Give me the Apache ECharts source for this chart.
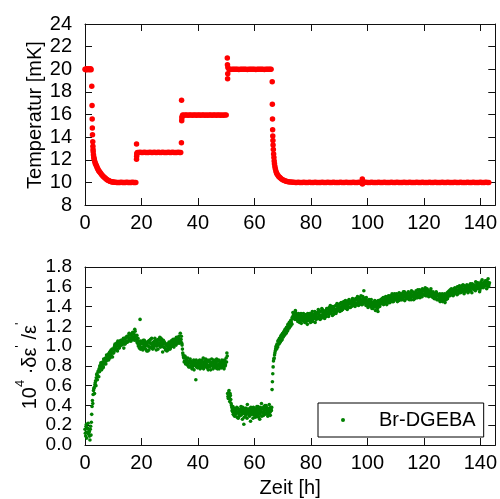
<!DOCTYPE html>
<html>
<head>
<meta charset="utf-8">
<script src="https://cdn.jsdelivr.net/npm/echarts@6/dist/echarts.min.js"></script>
<style>
html,body{margin:0;padding:0;background:#fff;}
#chart{width:500px;height:499px;}
</style>
</head>
<body>
<div id="chart"></div>
<script>
// ---- Data ----
const xTicks = [0, 20, 40, 60, 80, 100, 120, 140];
const tempTicks = [8, 10, 12, 14, 16, 18, 20, 22, 24];
const ratioTicks = [0.0, 0.2, 0.4, 0.6, 0.8, 1.0, 1.2, 1.4, 1.6, 1.8];
const seriesName = 'Br-DGEBA';

// Temperature [mK] vs time [h]
const temperature = [
[0,20.0],[0.25,19.95],[0.5,20.05],[0.75,19.95],[1.0,20.0],[1.25,20.05],[1.5,19.95],[1.75,20.0],[2.0,20.05],[2.15,19.95],
[2.4,18.5],[2.5,16.8],[2.55,15.6],[2.6,14.8],[2.65,14.2],
[2.75,13.6],[2.8,13.2],[2.85,12.9],[2.9,12.7],[3.0,12.45],[3.1,12.25],[3.2,12.1],[3.3,12.0],[3.45,11.85],[3.6,11.72],[3.8,11.6],[4.0,11.5],[4.2,11.38],[4.4,11.25],[4.6,11.15],[4.8,11.05],[5.0,10.98],[5.2,10.92],[5.5,10.82],[5.8,10.72],[6.1,10.63],[6.4,10.55],[6.7,10.48],[7.0,10.4],[7.3,10.34],[7.6,10.28],[7.9,10.22],[8.2,10.18],[8.5,10.14],[8.8,10.11],[9.1,10.08],[9.4,10.06],[9.7,10.04],[10.0,10.03],[10.4,10.02],[10.8,10.01],
[11.2,10.0],[11.6,10.0],[12.0,9.99],[12.4,10.0],[12.8,10.01],[13.2,10.0],[13.6,9.99],[14.0,10.0],[14.4,10.0],[14.8,10.01],[15.2,10.0],[15.6,9.99],[16.0,10.0],[16.4,10.0],[16.8,10.01],[17.2,10.0],[17.6,9.99],[18.0,10.0],
[18.25,13.4],[18.25,12.05],[18.3,12.3],[18.35,12.5],[18.45,12.6],
[18.6,12.65],[19.0,12.63],[19.5,12.66],[20.0,12.64],[20.5,12.65],[21.0,12.66],[21.5,12.64],[22.0,12.65],[22.5,12.63],[23.0,12.66],[23.5,12.65],[24.0,12.64],[24.5,12.66],[25.0,12.65],[25.5,12.63],[26.0,12.66],[26.5,12.64],[27.0,12.65],[27.5,12.66],[28.0,12.64],[28.5,12.65],[29.0,12.63],[29.5,12.66],[30.0,12.65],[30.5,12.64],[31.0,12.66],[31.5,12.65],[32.0,12.63],[32.5,12.65],[33.0,12.66],[33.5,12.64],[33.9,12.65],
[34.15,13.5],[34.2,17.25],[34.25,15.45],[34.3,15.7],[34.4,15.85],
[34.6,15.95],[35.0,15.94],[35.5,15.96],[36.0,15.95],[36.5,15.93],[37.0,15.96],[37.5,15.95],[38.0,15.94],[38.5,15.96],[39.0,15.95],[39.5,15.93],[40.0,15.95],[40.5,15.96],[41.0,15.94],[41.5,15.95],[42.0,15.96],[42.5,15.93],[43.0,15.95],[43.5,15.94],[44.0,15.96],[44.5,15.95],[45.0,15.93],[45.5,15.95],[46.0,15.96],[46.5,15.94],[47.0,15.95],[47.5,15.96],[48.0,15.93],[48.5,15.95],[49.0,15.94],[49.5,15.96],[50.0,15.95],
[50.4,21.0],[50.45,20.4],[50.5,19.15],[50.55,19.6],[50.6,20.15],
[51,20.0],[51.5,19.98],[52,20.01],[52.5,20.0],[53,19.99],[53.5,20.01],[54,20.0],[54.5,19.98],[55,20.0],[55.5,20.01],[56,19.99],[56.5,20.0],[57,20.01],[57.5,19.98],[58,20.0],[58.5,20.0],[59,20.01],[59.5,19.99],[60,20.0],[60.5,19.98],[61,20.01],[61.5,20.0],[62,19.99],[62.5,20.0],[63,20.01],[63.5,19.98],[64,20.0],[64.5,20.01],[65,19.99],[65.5,20.0],[65.9,20.0],
[66.3,18.9],[66.35,16.9],[66.4,15.6],[66.45,14.65],[66.5,14.1],[66.55,13.7],[66.6,13.3],[66.7,12.9],[66.8,12.5],[66.9,12.2],[67.0,11.9],[67.1,11.65],[67.25,11.4],[67.4,11.2],[67.6,11.0],[67.8,10.85],[68.0,10.75],[68.3,10.62],[68.6,10.52],[68.9,10.45],[69.2,10.38],[69.6,10.3],[70.0,10.24],[70.4,10.19],[70.8,10.15],[71.2,10.11],[71.6,10.08],[72.0,10.06],[72.5,10.04],[73.0,10.03],[73.5,10.02],[74.0,10.01],[74.5,10.0],
[75,10.0],[75.5,10.01],[76,9.99],[76.5,10.0],[77,10.0],[77.5,10.01],[78,9.99],[78.5,10.0],[79,10.0],[79.5,10.01],[80,10.0],[80.5,9.99],[81,10.0],[81.5,10.01],[82,10.0],[82.5,9.99],[83,10.0],[83.5,10.0],[84,10.01],[84.5,9.99],
[85,10.0],[85.5,10.0],[86,10.01],[86.5,9.99],[87,10.0],[87.5,10.0],[88,10.01],[88.5,10.0],[89,9.99],[89.5,10.0],[90,10.0],[90.5,10.01],[91,9.99],[91.5,10.0],[92,10.0],[92.5,10.01],[93,10.0],[93.5,9.99],[94,10.0],[94.5,10.0],
[95,10.01],[95.5,9.99],[96,10.0],[96.5,10.0],[97,10.01],[97.5,10.0],[98,9.99],[98.2,10.3],[98.25,9.85],[98.3,10.18],[98.5,10.0],[99,10.0],[99.5,10.01],[100,9.99],[100.5,10.0],[101,10.0],[101.5,10.01],[102,10.0],[102.5,9.99],[103,10.0],[103.5,10.0],[104,10.01],[104.5,9.99],
[105,10.0],[105.5,10.0],[106,10.01],[106.5,10.0],[107,9.99],[107.5,10.0],[108,10.0],[108.5,10.01],[109,9.99],[109.5,10.0],[110,10.0],[110.5,10.01],[111,10.0],[111.5,9.99],[112,10.0],[112.5,10.0],[113,10.01],[113.5,9.99],[114,10.0],[114.5,10.0],
[115,10.01],[115.5,10.0],[116,9.99],[116.5,10.0],[117,10.0],[117.5,10.01],[118,9.99],[118.5,10.0],[119,10.0],[119.5,10.01],[120,10.0],[120.5,9.99],[121,10.0],[121.5,10.0],[122,10.01],[122.5,9.99],[123,10.0],[123.5,10.0],[124,10.01],[124.5,10.0],
[125,9.99],[125.5,10.0],[126,10.0],[126.5,10.01],[127,9.99],[127.5,10.0],[128,10.0],[128.5,10.01],[129,10.0],[129.5,9.99],[130,10.0],[130.5,10.0],[131,10.01],[131.5,9.99],[132,10.0],[132.5,10.0],[133,10.01],[133.5,10.0],[134,9.99],[134.5,10.0],
[135,10.0],[135.5,10.01],[136,9.99],[136.5,10.0],[137,10.0],[137.5,10.01],[138,10.0],[138.5,9.99],[139,10.0],[139.5,10.0],[140,10.01],[140.5,9.99],[141,10.0],[141.5,10.0],[142,10.01],[142.5,10.0],[143,10.0]
];

// 10^4 * delta eps'/eps'
// set A: each row = [hour, value at +0h, +0.25h, +0.5h, +0.75h]
const ratioRowsA = [
[0,.16,.09,.21,.13],[1,.17,.11,.14,.05],[2,.19,.23,.39,.42],[3,.55,.58,.61,.65],[4,.68,.72,.70,.75],
[5,.77,.80,.78,.82],[6,.80,.84,.79,.86],[7,.83,.88,.85,.90],[8,.87,.92,.89,.94],[9,.91,.96,.93,.89],
[10,.97,.94,1.00,.96],[11,.99,1.03,.95,1.01],[12,1.04,.99,1.02,1.06],[13,1.01,1.05,1.03,.98],[14,1.07,1.03,1.09,1.05],
[15,1.04,1.10,1.06,1.12],[16,1.08,1.05,1.11,1.07],[17,1.13,1.09,1.06,1.15],[18,1.10,1.07,1.04,1.08],[19,1.02,.98,1.27,1.05],
[20,.99,1.04,.96,1.02],[21,1.06,1.00,.97,1.03],[22,1.01,.95,1.05,.99],[23,1.03,1.07,.98,1.02],[24,.97,1.04,1.00,1.08],
[25,1.02,.96,1.05,1.01],[26,1.07,1.03,1.09,.99],[27,1.04,1.00,.94,1.06],[28,.99,1.03,.96,1.01],[29,.95,1.00,.97,1.04],
[30,1.02,.98,1.05,1.00],[31,1.03,1.07,.99,1.04],[32,1.06,1.01,1.08,1.03],[33,1.05,1.10,1.04,1.13],[34,1.07,1.03,.97,.91],
[35,.88,.85,.89,.83],[36,.86,.81,.84,.79],[37,.83,.87,.80,.84],[38,.78,.82,.86,.81],[39,.84,.66,.79,.83],
[40,.80,.85,.82,.77],[41,.83,.79,.86,.81],[42,.77,.84,.80,.87],[43,.82,.78,.85,.80],[44,.86,.81,.76,.83],
[45,.80,.84,.79,.85],[46,.82,.78,.83,.80],[47,.85,.81,.77,.84],[48,.79,.83,.86,.80],[49,.82,.77,.84,.81],
[50,.88,.93,.52,.47],[51,.55,.44,.50,.42],[52,.38,.34,.31,.37],[53,.29,.35,.32,.38],[54,.33,.27,.36,.30],
[55,.34,.39,.31,.26],[56,.35,.21,.33,.37],[57,.30,.34,.41,.32],[58,.36,.29,.33,.38],[59,.31,.35,.27,.34],
[60,.37,.32,.30,.36],[61,.33,.39,.28,.35],[62,.31,.36,.42,.33],[63,.37,.30,.35,.40],[64,.32,.38,.34,.29],
[65,.36,.41,.33,.38],[66,.35,.56,.72,.85],[67,.88,.93,.97,1.00],[68,1.02,.99,1.06,1.03],[69,1.08,1.05,1.11,1.07],
[70,1.13,1.10,1.15,1.12],[71,1.17,1.13,1.19,1.16],[72,1.21,1.18,1.23,1.20],[73,1.25,1.22,1.28,1.31],[74,1.33,1.29,1.36,1.30],
[75,1.27,1.32,1.26,1.30],[76,1.24,1.29,1.33,1.27],[77,1.30,1.26,1.31,1.25],[78,1.28,1.32,1.26,1.22],[79,1.30,1.27,1.33,1.29],
[80,1.26,1.31,1.35,1.28],[81,1.32,1.29,1.24,1.33],[82,1.30,1.34,1.28,1.36],[83,1.32,1.27,1.35,1.31],[84,1.37,1.33,1.29,1.35],
[85,1.31,1.36,1.33,1.38],[86,1.34,1.30,1.39,1.35],[87,1.37,1.33,1.40,1.36],[88,1.32,1.38,1.35,1.41],[89,1.37,1.43,1.36,1.39],
[90,1.41,1.35,1.38,1.44],[91,1.40,1.37,1.43,1.39],[92,1.42,1.46,1.38,1.41],[93,1.44,1.40,1.47,1.43],[94,1.39,1.45,1.42,1.48],
[95,1.44,1.41,1.46,1.43],[96,1.47,1.42,1.50,1.45],[97,1.43,1.48,1.45,1.51],[98,1.46,1.42,1.49,1.56],[99,1.44,1.47,1.41,1.46],
[100,1.43,1.39,1.45,1.42],[101,1.46,1.40,1.44,1.41],[102,1.38,1.43,1.40,1.45],[103,1.42,1.39,1.44,1.35],[104,1.41,1.45,1.42,1.47],
[105,1.44,1.48,1.45,1.42],[106,1.47,1.43,1.50,1.46],[107,1.49,1.45,1.51,1.47],[108,1.44,1.50,1.47,1.53],[109,1.48,1.45,1.51,1.49],
[110,1.52,1.47,1.50,1.46],[111,1.49,1.54,1.48,1.51],[112,1.47,1.52,1.50,1.55],[113,1.50,1.46,1.53,1.49],[114,1.52,1.48,1.55,1.51],
[115,1.49,1.53,1.47,1.52],[116,1.55,1.50,1.53,1.48],[117,1.51,1.56,1.52,1.49],[118,1.54,1.50,1.57,1.53],[119,1.51,1.55,1.58,1.52],
[120,1.56,1.53,1.59,1.54],[121,1.51,1.57,1.54,1.50],[122,1.55,1.52,1.58,1.54],[123,1.50,1.55,1.52,1.48],[124,1.53,1.49,1.54,1.51],
[125,1.47,1.52,1.49,1.45],[126,1.50,1.46,1.53,1.48],[127,1.51,1.47,1.44,1.52],[128,1.49,1.54,1.50,1.53],[129,1.56,1.51,1.54,1.58],
[130,1.53,1.57,1.52,1.55],[131,1.59,1.54,1.57,1.52],[132,1.56,1.60,1.55,1.58],[133,1.54,1.57,1.61,1.55],[134,1.58,1.53,1.57,1.60],
[135,1.56,1.62,1.58,1.55],[136,1.60,1.57,1.63,1.59],[137,1.54,1.60,1.58,1.62],[138,1.59,1.56,1.61,1.64],[139,1.58,1.62,1.59,1.55],
[140,1.61,1.65,1.60,1.63],[141,1.59,1.64,1.61,1.66],[142,1.62,1.58,1.65,1.68],[143,1.61,1.64]
];
// set B: each row = [hour, value at +0.125h, +0.375h, +0.625h, +0.875h]
const ratioRowsB = [
[0,.12,.19,.07,.17],[1,.22,.13,.09,.16],[2,.10,.31,.45,.51],[3,.57,.52,.63,.60],[4,.71,.66,.74,.69],
[5,.74,.79,.83,.76],[6,.83,.78,.87,.82],[7,.87,.82,.91,.86],[8,.90,.86,.93,.88],[9,.95,.90,.97,.93],
[10,.93,.99,1.02,.97],[11,1.02,.97,1.05,1.00],[12,.98,1.05,1.01,1.03],[13,1.06,1.02,1.08,1.04],[14,1.02,1.08,1.04,1.10],
[15,1.09,1.05,1.13,1.08],[16,1.12,1.07,1.10,1.14],[17,1.08,1.12,1.17,1.10],[18,1.06,1.11,1.03,1.00],[19,1.05,1.01,.97,1.03],
[20,1.03,.97,1.06,1.00],[21,.98,1.04,1.01,.95],[22,1.04,1.00,.96,1.06],[23,.99,1.03,1.08,1.00],[24,1.03,.98,1.05,1.02],
[25,1.06,1.00,1.03,.97],[26,1.01,1.06,1.02,1.08],[27,1.07,1.02,1.05,.99],[28,1.04,.98,1.02,.97],[29,1.02,.96,.99,1.01],
[30,.97,1.03,1.00,1.06],[31,1.00,1.05,1.02,1.07],[32,1.03,1.09,1.04,1.06],[33,1.08,1.03,1.07,1.05],[34,1.10,1.01,.93,.89],
[35,.84,.90,.82,.87],[36,.83,.88,.80,.85],[37,.79,.85,.82,.77],[38,.84,.80,.76,.83],[39,.81,.86,.82,.78],
[40,.83,.79,.86,.81],[41,.78,.84,.80,.88],[42,.82,.79,.85,.83],[43,.86,.80,.76,.84],[44,.79,.84,.82,.87],
[45,.83,.77,.86,.81],[46,.85,.80,.87,.77],[47,.80,.86,.82,.79],[48,.84,.78,.82,.85],[49,.79,.86,.80,.84],
[50,.84,.90,.49,.53],[51,.48,.52,.46,.40],[52,.35,.39,.33,.30],[53,.36,.31,.34,.28],[54,.37,.32,.29,.35],
[55,.30,.36,.33,.38],[56,.32,.28,.36,.31],[57,.37,.27,.33,.35],[58,.31,.37,.24,.34],[59,.36,.32,.38,.30],
[60,.33,.28,.35,.39],[61,.30,.36,.32,.26],[62,.38,.34,.29,.37],[63,.33,.39,.31,.36],[64,.40,.35,.31,.37],
[65,.33,.37,.30,.35],[66,.38,.64,.79,.87],[67,.91,.95,.99,.97],[68,1.00,1.05,1.02,1.08],[69,1.04,1.10,1.06,1.12],
[70,1.09,1.14,1.11,1.17],[71,1.14,1.19,1.15,1.22],[72,1.19,1.24,1.21,1.26],[73,1.23,1.29,1.34,1.28],[74,1.31,1.27,1.34,1.32],
[75,1.30,1.25,1.33,1.28],[76,1.31,1.26,1.23,1.30],[77,1.27,1.33,1.28,1.24],[78,1.31,1.25,1.29,1.33],[79,1.26,1.32,1.28,1.24],
[80,1.33,1.29,1.25,1.31],[81,1.28,1.35,1.30,1.27],[82,1.33,1.29,1.37,1.31],[83,1.35,1.30,1.28,1.38],[84,1.31,1.36,1.32,1.28],
[85,1.35,1.30,1.38,1.33],[86,1.37,1.32,1.36,1.41],[87,1.34,1.39,1.31,1.38],[88,1.40,1.34,1.37,1.33],[89,1.35,1.40,1.38,1.42],
[90,1.37,1.43,1.39,1.36],[91,1.43,1.38,1.45,1.41],[92,1.39,1.44,1.40,1.37],[93,1.42,1.46,1.39,1.45],[94,1.44,1.40,1.47,1.43],
[95,1.46,1.42,1.40,1.48],[96,1.43,1.48,1.44,1.41],[97,1.49,1.44,1.47,1.42],[98,1.44,1.50,1.45,1.48],[99,1.47,1.43,1.49,1.42],
[100,1.45,1.41,1.47,1.44],[101,1.42,1.47,1.38,1.44],[102,1.44,1.40,1.46,1.36],[103,1.45,1.41,1.38,1.46],[104,1.44,1.40,1.46,1.43],
[105,1.47,1.43,1.49,1.45],[106,1.44,1.49,1.45,1.42],[107,1.46,1.50,1.44,1.49],[108,1.51,1.46,1.49,1.45],[109,1.50,1.46,1.53,1.48],
[110,1.49,1.53,1.45,1.51],[111,1.46,1.51,1.53,1.47],[112,1.53,1.49,1.47,1.52],[113,1.55,1.51,1.48,1.53],[114,1.49,1.54,1.50,1.47],
[115,1.53,1.50,1.56,1.51],[116,1.51,1.47,1.54,1.52],[117,1.54,1.49,1.53,1.57],[118,1.51,1.55,1.49,1.56],[119,1.54,1.50,1.53,1.57],
[120,1.52,1.57,1.51,1.55],[121,1.58,1.53,1.56,1.52],[122,1.51,1.56,1.53,1.50],[123,1.54,1.49,1.53,1.51],[124,1.50,1.55,1.47,1.52],
[125,1.51,1.48,1.53,1.50],[126,1.47,1.51,1.45,1.50],[127,1.49,1.53,1.50,1.47],[128,1.52,1.48,1.55,1.51],[129,1.53,1.57,1.52,1.55],
[130,1.56,1.51,1.58,1.54],[131,1.55,1.58,1.53,1.60],[132,1.53,1.57,1.61,1.56],[133,1.59,1.55,1.58,1.62],[134,1.56,1.61,1.55,1.59],
[135,1.60,1.57,1.54,1.61],[136,1.58,1.62,1.56,1.60],[137,1.63,1.58,1.61,1.57],[138,1.60,1.65,1.58,1.62],[139,1.64,1.60,1.63,1.57],
[140,1.59,1.62,1.67,1.61],[141,1.63,1.60,1.65,1.62],[142,1.66,1.61,1.64,1.60],[143,1.63]
];
const subStepsA = [0, 0.25, 0.5, 0.75];
const subStepsB = [0.125, 0.375, 0.625, 0.875];

// ---- Build ----
const ratioData = [];
function addRows(rows, steps) {
  rows.forEach(function (row) {
    for (let k = 1; k < row.length; k++) ratioData.push([row[0] + steps[k - 1], row[k]]);
  });
}
addRows(ratioRowsA, subStepsA);
addRows(ratioRowsB, subStepsB);

const FONT = "'Liberation Sans', Arial, Helvetica, sans-serif";
const AX = '#111';
const X_MAX = 145.3;

function xAx(gi, pos, labels, extra) {
  return Object.assign({
    type: 'value', gridIndex: gi, position: pos, min: 0, max: X_MAX, interval: 20,
    axisLine: { show: true, onZero: false, lineStyle: { color: AX, width: 1 } },
    axisTick: { show: true, inside: true, length: 7, lineStyle: { color: AX, width: 1 } },
    axisLabel: {
      show: labels, fontSize: 20, fontFamily: FONT, color: '#000', margin: 8,
      formatter: function (v) { return xTicks.indexOf(v) >= 0 ? String(v) : ''; }
    },
    splitLine: { show: false }
  }, extra || {});
}
function yAx(gi, pos, labels, ticks, fmt, fs) {
  const step = +(ticks[1] - ticks[0]).toFixed(4);
  return {
    type: 'value', gridIndex: gi, position: pos,
    min: ticks[0], max: ticks[ticks.length - 1], interval: step,
    axisLine: { show: true, onZero: false, lineStyle: { color: AX, width: 1 } },
    axisTick: { show: true, inside: true, length: 7, lineStyle: { color: AX, width: 1 } },
    axisLabel: {
      show: labels, fontSize: fs || 20, lineHeight: 14, fontFamily: FONT, color: '#000', margin: 13, formatter: fmt,
      showMinLabel: true, showMaxLabel: true, hideOverlap: false
    },
    splitLine: { show: false }
  };
}

const chart = echarts.init(document.getElementById('chart'), null, { renderer: 'canvas' });
chart.setOption({
  animation: false,
  backgroundColor: '#fff',
  grid: [
    { left: 85, right: 3, top: 24, height: 181 },
    { left: 85, right: 3, top: 267, height: 180 }
  ],
  xAxis: [
    xAx(0, 'bottom', true),
    xAx(0, 'top', false),
    xAx(1, 'bottom', true, {
      name: 'Zeit [h]', nameLocation: 'middle', nameGap: 33,
      nameTextStyle: { fontSize: 20, fontFamily: FONT, color: '#000' }
    }),
    xAx(1, 'top', false)
  ],
  yAxis: [
    yAx(0, 'left', true, tempTicks, function (v) { return String(Math.round(v)); }),
    yAx(0, 'right', false, tempTicks),
    yAx(1, 'left', true, ratioTicks, function (v) { return (Math.round(v * 10) / 10).toFixed(1); }, 19),
    yAx(1, 'right', false, ratioTicks)
  ],
  legend: {
    show: true,
    data: [seriesName],
    left: 318, top: 403,
    padding: [7, 8, 7, 23],
    borderColor: '#000', borderWidth: 1, borderRadius: 0,
    itemWidth: 10, itemHeight: 4,
    textStyle: { fontSize: 20, fontFamily: FONT, color: '#000', padding: [0, 0, 0, 26] }
  },
  graphic: [
    {
      type: 'text', x: 35, y: 115, rotation: Math.PI / 2,
      style: { text: 'Temperatur [mK]', fontSize: 20, fontFamily: FONT, fill: '#000', align: 'center', verticalAlign: 'middle' }
    },
    {
      type: 'text', x: 30, y: 366, rotation: Math.PI / 2,
      style: {
        text: '10{s|4} ·δε{s|\'} /ε{s|\'}',
        fontSize: 20, fontFamily: FONT, fill: '#000', align: 'center', verticalAlign: 'middle', lineHeight: 32,
        rich: { s: { fontSize: 13, fontFamily: FONT, fill: '#000', verticalAlign: 'top', lineHeight: 13 } }
      }
    }
  ],
  series: [
    {
      type: 'scatter', name: 'Temperatur', xAxisIndex: 0, yAxisIndex: 0,
      data: temperature, symbol: 'circle', symbolSize: 5.5,
      itemStyle: { color: '#ff0000', opacity: 1 }, silent: true
    },
    {
      type: 'scatter', name: seriesName, xAxisIndex: 2, yAxisIndex: 2,
      data: ratioData, symbol: 'circle', symbolSize: 3.6,
      itemStyle: { color: '#008000', opacity: 1 }, silent: true
    }
  ]
});
</script>
</body>
</html>
